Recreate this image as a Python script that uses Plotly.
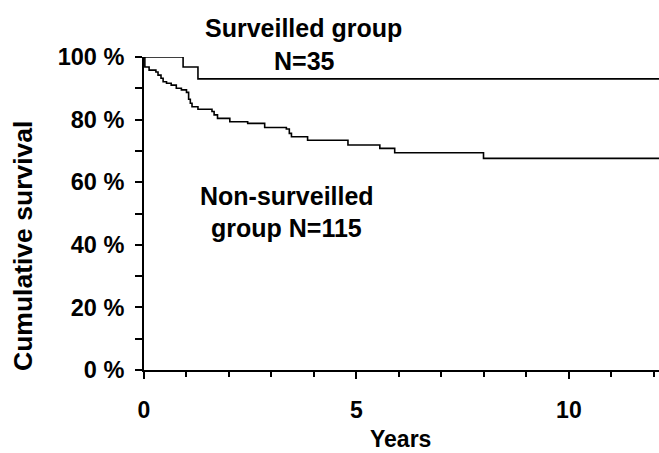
import plotly.graph_objects as go

# Surveilled group (N=35): event times (years) and survival (%) after each step
surv_times = [0.0, 0.92, 1.27, 12.12]
surv_values = [100.0, 96.8, 93.0, 93.0]

# Non-surveilled group (N=115)
nonsurv_times = [0.0, 0.02, 0.12, 0.28, 0.33, 0.40, 0.45, 0.53, 0.64, 0.76, 0.88,
                 1.00, 1.05, 1.09, 1.13, 1.27, 1.60, 1.65, 1.73, 2.02, 2.44, 2.84,
                 3.35, 3.42, 3.47, 3.85, 4.80, 5.55, 5.90, 7.99, 12.12]
nonsurv_values = [100.0, 96.8, 95.8, 95.2, 94.2, 93.2, 92.1, 91.6, 91.0, 90.0, 89.5,
                  88.7, 86.5, 85.2, 84.1, 83.3, 82.6, 81.5, 80.4, 79.3, 78.8, 77.5,
                  77.0, 75.6, 74.5, 73.4, 71.9, 70.8, 69.4, 67.6, 67.6]

y_tickvals = [0, 20, 40, 60, 80, 100]
y_ticktext = ["0 %", "20 %", "40 %", "60 %", "80 %", "100 %"]
x_tickvals = [0, 5, 10]
x_ticktext = ["0", "5", "10"]

FONT = "Arial, Liberation Sans, sans-serif"

fig = go.Figure()
fig.add_trace(go.Scatter(x=surv_times, y=surv_values, mode="lines",
                         line=dict(shape="hv", color="black", width=1.6),
                         cliponaxis=False, showlegend=False))
fig.add_trace(go.Scatter(x=nonsurv_times, y=nonsurv_values, mode="lines",
                         line=dict(shape="hv", color="black", width=1.6),
                         cliponaxis=False, showlegend=False))

fig.update_layout(
    width=659, height=453,
    margin=dict(l=144, r=0, t=57, b=83),
    paper_bgcolor="white", plot_bgcolor="white",
    font=dict(family=FONT, color="black"),
    xaxis=dict(range=[0, 12.12], showgrid=False, zeroline=False,
               showline=True, linecolor="black", linewidth=2,
               ticks="outside", ticklen=7, tickwidth=2, tickcolor="black",
               tickvals=x_tickvals, ticktext=x_ticktext,
               tickfont=dict(family=FONT, size=23, color="black", weight="bold"),
               ticklabelstandoff=11,
               minor=dict(dtick=1, ticks="outside", ticklen=5, tickwidth=2,
                          tickcolor="black", showgrid=False)),
    yaxis=dict(range=[0, 100], showgrid=False, zeroline=False,
               showline=True, linecolor="black", linewidth=2,
               ticks="outside", ticklen=7, tickwidth=2, tickcolor="black",
               tickvals=y_tickvals, ticktext=y_ticktext,
               tickfont=dict(family=FONT, size=23.5, color="black", weight="bold"),
               ticklabelstandoff=6,
               minor=dict(dtick=10, ticks="outside", ticklen=7, tickwidth=2,
                          tickcolor="black", showgrid=False)),
)

def ann(text, x, y, size, angle=0):
    fig.add_annotation(text="<b>%s</b>" % text, x=x, y=y, xref="paper", yref="paper",
                       xanchor="center", yanchor="middle", showarrow=False,
                       textangle=angle, font=dict(family=FONT, size=size, color="black"))

W, H = 659, 453
def px(xp):
    return (xp - 144) / (W - 144)
def py(yp):
    return (H - 83 - yp) / (H - 57 - 83)

ann("Surveilled group", px(303), py(28), 25)
ann("N=35", px(304), py(61), 25)
ann("Non-surveilled", px(287), py(196), 25)
ann("group N=115", px(286), py(228), 25)
ann("Years", px(400), py(439), 23)
ann("Cumulative survival", px(23), py(246), 26.5, angle=-90)

fig.write_html("out.html", config={"displayModeBar": False},
               post_script="document.body.style.margin='0px';")
